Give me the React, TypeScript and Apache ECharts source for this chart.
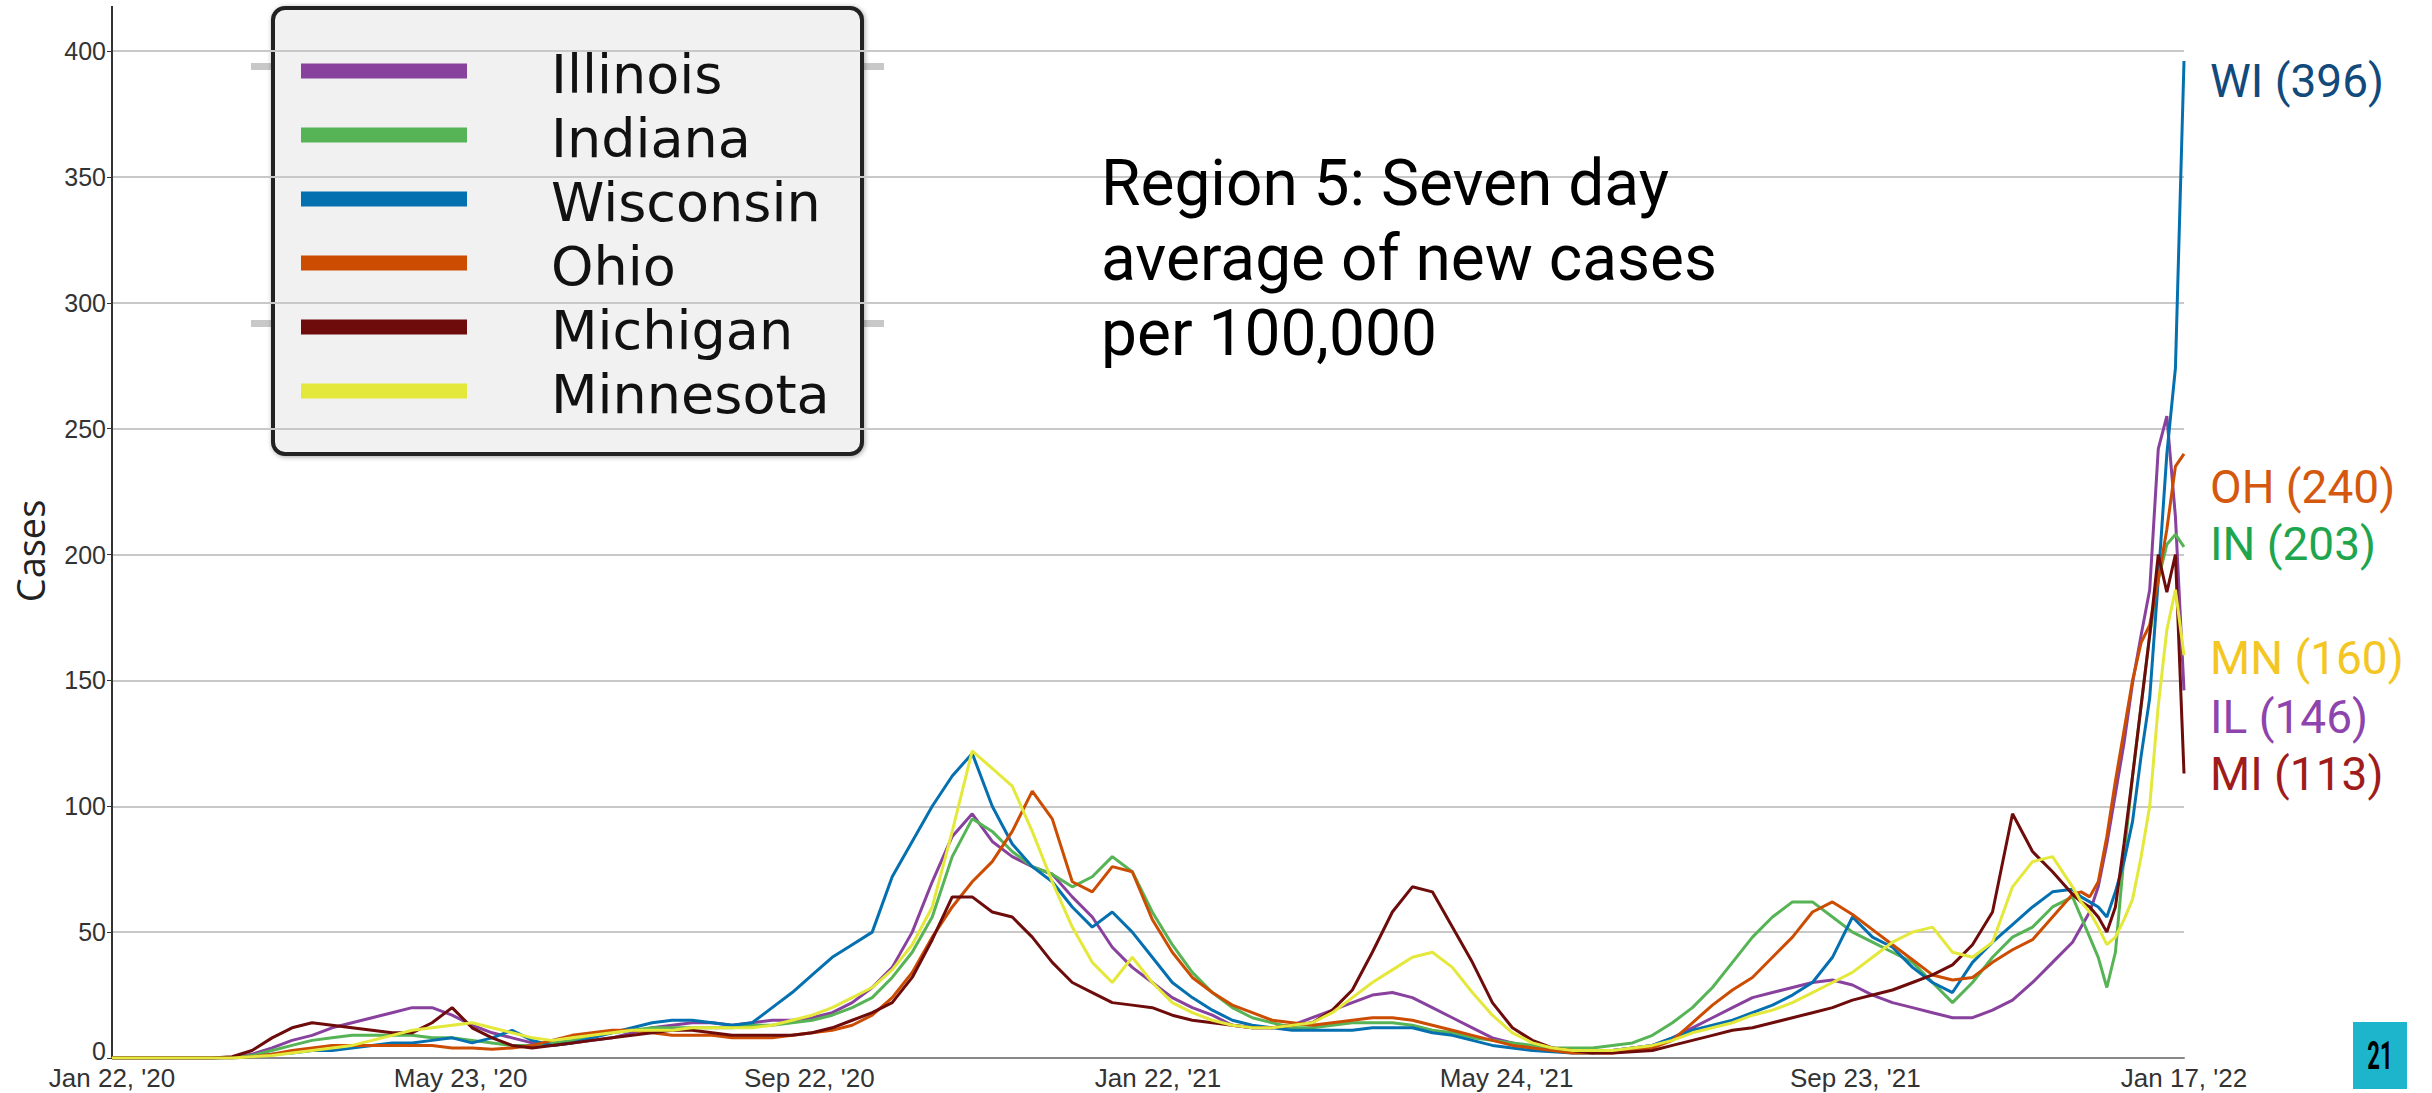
import React, { useEffect, useRef } from "react";
import * as echarts from "echarts";

// Day offsets from Jan 22, 2020 (weekly, then every 3 days at the end)
const DAYS = [
  0, 7, 14, 21, 28, 35, 42,
  49, 56, 63, 70, 77, 84, 91,
  98, 105, 112, 119, 126, 133, 140,
  147, 154, 161, 168, 175, 182, 189,
  196, 203, 210, 217, 224, 231, 238,
  245, 252, 259, 266, 273, 280, 287,
  294, 301, 308, 315, 322, 329, 336,
  343, 350, 357, 364, 371, 378, 385,
  392, 399, 406, 413, 420, 427, 434,
  441, 448, 455, 462, 469, 476, 483,
  490, 497, 504, 511, 518, 525, 532,
  539, 546, 553, 560, 567, 574, 581,
  588, 595, 602, 609, 616, 623, 630,
  637, 644, 651, 658, 665, 672, 679,
  686,
  689, 692, 695, 698, 701, 704, 707, 710, 713, 716, 719, 722, 725,
];

const ILLINOIS = [
  0, 0, 0, 0, 0, 0, 0.3,
  1.5, 4, 7, 9, 12, 14, 16,
  18, 20, 20, 17, 13, 10, 8,
  6, 5, 6, 7, 8, 10, 12,
  13, 14, 14, 13, 14, 15, 15,
  16, 18, 22, 28, 36, 50, 70,
  88, 97, 86, 80, 76, 73, 64,
  56, 44, 36, 30, 24, 20, 17,
  13, 12, 12, 13, 16, 19, 22,
  25, 26, 24, 20, 16, 12, 8,
  6, 4, 3, 2.5, 2.5, 3, 4,
  5, 8, 12, 16, 20, 24, 26,
  28, 30, 31, 29, 25, 22, 20,
  18, 16, 16, 19, 23, 30, 38,
  46,
  52, 58, 68, 85, 105, 125, 149, 168, 186, 242, 255, 215, 146,
];

const INDIANA = [
  0, 0, 0, 0, 0, 0, 0.2,
  1, 3, 5, 7, 8, 9, 9,
  9, 9, 8, 8, 7, 6, 5,
  5, 6, 7, 9, 10, 11, 12,
  12, 12, 12, 12, 13, 13, 14,
  15, 17, 20, 24, 32, 42, 56,
  80, 95, 90, 82, 76, 73, 68,
  72, 80, 74, 58, 45, 34, 26,
  20, 16, 14, 12, 12, 13, 14,
  14, 14, 13, 11, 10, 8, 7,
  6, 5, 4, 4, 4, 5, 6,
  9, 14, 20, 28, 38, 48, 56,
  62, 62, 56, 50, 46, 42, 38,
  30, 22, 30, 40, 48, 52, 60,
  64,
  56, 48, 40, 28, 42, 80, 112, 140, 168, 190, 204, 208, 203,
];

const WISCONSIN = [
  0, 0, 0, 0, 0, 0, 0,
  0.5, 1.5, 2, 3, 3, 4, 5,
  6, 6, 7, 8, 6, 8, 11,
  7, 5, 6, 8, 10, 12, 14,
  15, 15, 14, 13, 14, 20, 26,
  33, 40, 45, 50, 72, 86, 100,
  112, 121, 100, 85, 76, 70, 60,
  52, 58, 50, 40, 30, 24, 19,
  15, 13, 12, 11, 11, 11, 11,
  12, 12, 12, 10, 9, 7, 5,
  4, 3, 2.5, 2, 2, 3, 4,
  5, 8, 11, 13, 15, 18, 21,
  25, 30, 40, 56, 48, 44, 36,
  30, 26, 38, 46, 53, 60, 66,
  67,
  64, 62, 60, 56, 66, 78, 94, 120, 143, 190, 240, 274, 396,
];

const OHIO = [
  0, 0, 0, 0, 0, 0, 0,
  0.5, 1.5, 3, 4, 5, 5, 5,
  5, 5, 5, 4, 4, 3.5, 4,
  5, 7, 9, 10, 11, 11, 10,
  9, 9, 9, 8, 8, 8, 9,
  10, 11, 13, 17, 24, 34, 48,
  60, 70, 78, 90, 106, 95, 70,
  66, 76, 74, 55, 42, 32, 26,
  21, 18, 15, 14, 13, 14, 15,
  16, 16, 15, 13, 11, 9, 7,
  5, 4, 3, 2, 2, 2, 3,
  4, 7, 14, 21, 27, 32, 40,
  48, 58, 62, 57, 51, 45, 39,
  33, 31, 32, 38, 43, 47, 56,
  65,
  66, 64, 70, 88, 110, 130, 150, 165, 172, 190, 210, 235, 240,
];

const MICHIGAN = [
  0, 0, 0, 0, 0, 0, 0.5,
  3, 8, 12, 14, 13, 12, 11,
  10, 10, 14, 20, 12, 8, 5,
  4, 5, 6, 7, 8, 9, 10,
  11, 11, 10, 9, 9, 9, 9,
  10, 12, 15, 18, 22, 32, 47,
  64, 64, 58, 56, 48, 38, 30,
  26, 22, 21, 20, 17, 15, 14,
  13, 12, 12, 13, 14, 19, 27,
  42, 58, 68, 66, 52, 38, 22,
  12, 7, 4, 3, 2, 2, 2.5,
  3, 5, 7, 9, 11, 12, 14,
  16, 18, 20, 23, 25, 27, 30,
  33, 37, 45, 58, 97, 82, 74,
  65,
  62, 60, 56, 50, 60, 85, 112, 140, 168, 200, 185, 200, 113,
];

const MINNESOTA = [
  0, 0, 0, 0, 0, 0, 0,
  0.5, 1, 2, 3, 4, 5, 7,
  9, 11, 12, 13, 14, 12, 10,
  8, 7, 8, 9, 10, 11, 11,
  11, 12, 12, 12, 12, 13, 15,
  17, 20, 24, 28, 35, 45, 60,
  90, 122, 115, 108, 90, 70, 52,
  38, 30, 40, 30, 22, 18, 15,
  13, 12, 12, 13, 14, 18, 24,
  30, 35, 40, 42, 36, 26, 17,
  10, 6, 4, 3, 3, 3, 4,
  5, 7, 10, 12, 14, 17, 19,
  22, 26, 30, 34, 40, 46, 50,
  52, 42, 40, 46, 68, 78, 80,
  68,
  62, 58, 52, 45, 48, 55, 63, 80, 100, 140, 170, 186, 160,
];

const STATE_NAMES = ["Illinois", "Indiana", "Wisconsin", "Ohio", "Michigan", "Minnesota"];
const STATE_CODES = ["IL", "IN", "WI", "OH", "MI", "MN"];
const STATE_VALUES = [ILLINOIS, INDIANA, WISCONSIN, OHIO, MICHIGAN, MINNESOTA];
const LINE_COLORS = ["#88419d", "#56b456", "#0570b0", "#cc4c02", "#6e0b0b", "#e4e83a"];
const LABEL_COLORS = ["#8e44ad", "#1ea54d", "#124a7c", "#d4590f", "#a01c1c", "#f3c623"];

const X_TICK_DAYS = [0, 122, 244, 366, 488, 610, 725];
const X_TICK_LABELS = ["Jan 22, '20", "May 23, '20", "Sep 22, '20", "Jan 22, '21", "May 24, '21", "Sep 23, '21", "Jan 17, '22"];

const TITLE_LINES = ["Region 5: Seven day", "average of new cases", "per 100,000"];

export default function App() {
  const ref = useRef<HTMLDivElement>(null);

  useEffect(() => {
    document.body.style.margin = "0";
    if (!ref.current) return;
    const chart = echarts.init(ref.current, undefined, { renderer: "svg" });

    const endLabelY: Record<string, number> = { WI: 81, OH: 487, IN: 544, MN: 658, IL: 717, MI: 774 };

    const graphics: any[] = [];
    graphics.push({
      type: "line",
      z: 50,
      shape: { x1: 112, y1: 6, x2: 112, y2: 51 },
      style: { stroke: "#333", lineWidth: 2 },
    });

    const legendChildren: any[] = [
      { type: "rect", shape: { x: 251, y: 0, width: 633, height: 476 }, style: { fill: "#ffffff" } },
      { type: "rect", shape: { x: 251, y: 63, width: 22, height: 7 }, style: { fill: "#c8c8c8" } },
      { type: "rect", shape: { x: 251, y: 320, width: 22, height: 7 }, style: { fill: "#c8c8c8" } },
      { type: "rect", shape: { x: 862, y: 63, width: 22, height: 7 }, style: { fill: "#c8c8c8" } },
      { type: "rect", shape: { x: 862, y: 320, width: 22, height: 7 }, style: { fill: "#c8c8c8" } },
      {
        type: "rect",
        shape: { x: 273, y: 8, width: 589, height: 446, r: 12 },
        style: {
          fill: "#f1f1f1",
          stroke: "#222",
          lineWidth: 4,
          shadowBlur: 5,
          shadowColor: "rgba(0,0,0,0.35)",
          shadowOffsetX: 1,
          shadowOffsetY: 1,
        },
      },
    ];
    STATE_NAMES.forEach((name, i) => {
      const y = 71 + i * 64;
      legendChildren.push({
        type: "line",
        shape: { x1: 301, y1: y, x2: 467, y2: y },
        style: { stroke: LINE_COLORS[i], lineWidth: 15 },
      });
      legendChildren.push({
        type: "text",
        x: 551,
        y: y + 3,
        style: {
          text: name,
          fontFamily: "DejaVu Sans",
          fontSize: 54,
          fill: "#111",
          verticalAlign: "middle",
          align: "left",
        },
      });
    });
    graphics.push({ type: "group", z: 100, children: legendChildren });

    graphics.push({
      type: "text",
      z: 100,
      x: 1101,
      y: 146,
      style: {
        text: TITLE_LINES.join("\n"),
        fontFamily: "Roboto",
        fontSize: 64,
        lineHeight: 75,
        fill: "#000",
        align: "left",
        verticalAlign: "top",
      },
    });

    STATE_CODES.forEach((code, i) => {
      const vals = STATE_VALUES[i];
      const last = Math.round(vals[vals.length - 1]);
      graphics.push({
        type: "text",
        z: 100,
        x: 2210,
        y: endLabelY[code],
        style: {
          text: `${code} (${last})`,
          fontFamily: "Roboto",
          fontSize: 46,
          fill: LABEL_COLORS[i],
          align: "left",
          verticalAlign: "middle",
        },
      });
    });

    graphics.push({
      type: "text",
      z: 100,
      x: 30,
      y: 551,
      rotation: Math.PI / 2,
      style: {
        text: "Cases",
        fontFamily: "Open Sans",
        fontSize: 38,
        fill: "#222",
        align: "center",
        verticalAlign: "middle",
      },
    });

    graphics.push({
      type: "rect",
      z: 100,
      shape: { x: 2353, y: 1022, width: 54, height: 67 },
      style: { fill: "#1cb5cc" },
    });
    graphics.push({
      type: "text",
      z: 101,
      x: 2380,
      y: 1056,
      scaleX: 0.58,
      style: {
        text: "21",
        fontFamily: "Roboto",
        fontWeight: "bold",
        fontSize: 38,
        fill: "#000",
        align: "center",
        verticalAlign: "middle",
      },
    });

    const option: any = {
      animation: false,
      backgroundColor: "#ffffff",
      grid: { left: 112, right: 248, top: 51, bottom: 35, containLabel: false },
      xAxis: {
        type: "value",
        min: 0,
        max: 725,
        axisLine: { show: true, lineStyle: { color: "#888", width: 2 } },
        axisTick: { show: false },
        splitLine: { show: false },
        axisLabel: {
          customValues: X_TICK_DAYS,
          formatter: (v: number) => {
            const idx = X_TICK_DAYS.indexOf(v);
            return idx >= 0 ? X_TICK_LABELS[idx] : "";
          },
          fontFamily: "Liberation Sans",
          fontSize: 26,
          color: "#333",
          margin: 7,
        },
      },
      yAxis: {
        type: "value",
        min: 0,
        max: 400,
        interval: 50,
        axisLine: { show: true, lineStyle: { color: "#333", width: 2 } },
        axisTick: { show: true, length: 5, lineStyle: { color: "#333", width: 1 } },
        splitLine: { show: true, lineStyle: { color: "#c8c8c8", width: 2 } },
        axisLabel: {
          fontFamily: "Liberation Sans",
          fontSize: 25,
          color: "#333",
          margin: 6,
          formatter: (v: number) => (v === 0 ? "{zero|0}" : String(v)),
          rich: {
            zero: {
              fontFamily: "Liberation Sans",
              fontSize: 25,
              color: "#333",
              padding: [0, 0, 14, 0],
            },
          },
        },
      },
      series: STATE_NAMES.map((name, i) => ({
        name,
        type: "line",
        showSymbol: false,
        symbol: "none",
        lineStyle: { width: 3, color: LINE_COLORS[i] },
        itemStyle: { color: LINE_COLORS[i] },
        data: DAYS.map((d, k) => [d, STATE_VALUES[i][k]]),
        z: 2 + i,
      })),
      graphic: graphics,
    };

    chart.setOption(option);
    return () => chart.dispose();
  }, []);

  return (
    <div
      ref={ref}
      style={{ position: "absolute", left: 0, top: 0, width: 2432, height: 1093 }}
    />
  );
}
